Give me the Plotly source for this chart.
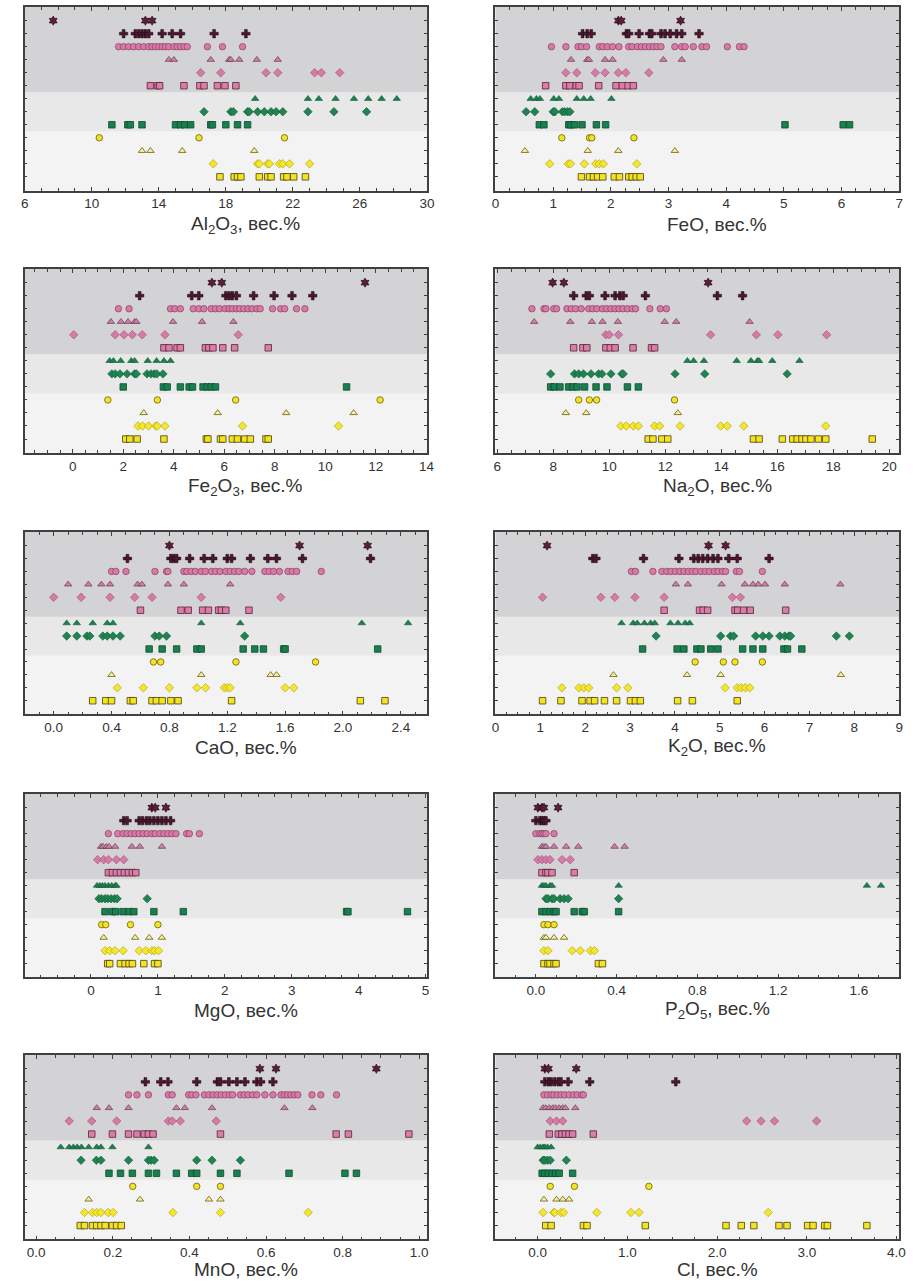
import plotly.graph_objects as go

# ---------------- data (rows from top to bottom, 13 groups) ----------------
AL2O3 = [
    [7.7, 13.2, 13.6],
    [11.9, 12.6, 12.8, 13.0, 13.2, 13.4, 14.2, 14.8, 15.3, 17.3, 19.2],
    [11.6, 11.9, 12.2, 12.5, 12.8, 13.1, 13.4, 13.6, 13.8, 14.0, 14.2, 14.4, 14.6, 14.9, 15.1, 15.3, 15.5, 15.7, 16.9, 17.8, 19.0],
    [14.6, 14.9, 17.1, 18.2, 18.3, 18.8, 19.85, 21.1],
    [16.5, 17.7, 20.4, 21.1, 23.3, 23.7, 24.8],
    [13.5, 13.95, 14.05, 15.5, 16.45, 16.7, 17.5, 17.95, 18.6],
    [19.75, 22.9, 23.55, 24.55, 25.65, 26.5, 27.3, 28.2],
    [16.7, 18.3, 18.45, 19.3, 19.4, 19.9, 20.3, 20.7, 21.0, 21.4, 22.9, 24.45, 26.4],
    [11.2, 12.15, 12.3, 13.0, 15.0, 15.3, 15.55, 15.9, 17.1, 17.2, 18.0, 18.7, 19.3],
    [10.45, 16.4, 21.5],
    [13.0, 13.5, 15.4, 19.7],
    [17.25, 19.9, 20.0, 20.5, 20.6, 21.2, 21.4, 21.8, 23.0],
    [17.65, 18.5, 18.7, 18.9, 20.0, 20.5, 20.7, 21.45, 21.65, 22.05, 22.75],
]
FEO = [
    [2.13, 2.18, 3.21],
    [1.51, 1.59, 1.66, 2.27, 2.31, 2.49, 2.67, 2.71, 2.87, 2.94, 3.03, 3.14, 3.23, 3.53],
    [0.97, 1.22, 1.43, 1.49, 1.58, 1.8, 1.86, 1.94, 2.03, 2.14, 2.31, 2.37, 2.46, 2.53, 2.6, 2.67, 2.74, 2.8, 2.87, 3.11, 3.23, 3.29, 3.43, 3.58, 3.66, 4.02, 4.23, 4.31],
    [1.31, 1.59, 1.62, 1.9, 2.03, 2.91, 3.23],
    [1.22, 1.41, 1.73, 1.9, 2.13, 2.26, 2.66],
    [0.87, 1.22, 1.29, 1.4, 1.45, 1.79, 2.09, 2.2, 2.3, 2.39],
    [0.61, 0.71, 0.77, 1.01, 1.1, 1.41, 1.53, 1.65, 2.01],
    [0.53, 0.68, 1.0, 1.03, 1.16, 1.2, 1.25, 1.29],
    [0.76, 0.84, 1.27, 1.31, 1.37, 1.5, 1.75, 1.91, 5.02, 6.03, 6.14],
    [1.15, 1.63, 1.67, 2.4],
    [0.51, 1.6, 2.13, 3.11],
    [0.94, 1.26, 1.3, 1.54, 1.74, 1.8, 1.87, 2.45],
    [1.49, 1.63, 1.7, 1.77, 1.86, 2.06, 2.15, 2.31, 2.37, 2.44, 2.51],
]
FE2O3 = [
    [5.51, 5.9, 11.57],
    [2.65, 4.71, 4.99, 6.06, 6.19, 6.32, 6.48, 7.16, 7.97, 8.68, 9.5],
    [1.81, 2.23, 3.87, 4.04, 4.26, 4.77, 4.99, 5.19, 5.48, 5.65, 5.81, 6.03, 6.19, 6.32, 6.48, 6.61, 6.77, 6.94, 7.1, 7.29, 7.42, 7.91, 8.23, 8.39, 8.86, 9.19],
    [1.51, 1.91, 2.19, 2.45, 2.52, 3.97, 5.12, 6.36],
    [0.04, 1.68, 2.03, 2.36, 2.75, 3.65, 6.55],
    [3.61, 3.81, 4.13, 4.26, 5.25, 5.39, 5.55, 5.94, 6.41, 7.74],
    [1.46, 1.61, 1.9, 2.32, 2.45, 2.97, 3.32, 3.61, 3.87],
    [1.55, 1.68, 1.87, 2.15, 2.45, 2.52, 2.94, 3.1, 3.23, 3.33, 3.57],
    [2.0, 3.59, 3.74, 4.26, 4.61, 4.74, 5.16, 5.32, 5.48, 5.65, 10.84],
    [1.39, 3.35, 6.45, 12.17],
    [2.81, 5.74, 8.45, 11.12],
    [2.58, 2.77, 3.0, 3.29, 3.35, 3.65, 6.72, 10.52],
    [2.1, 2.26, 2.55, 3.61, 5.29, 5.35, 5.85, 5.94, 6.32, 6.52, 6.81, 7.03, 7.65, 7.74],
]
NA2O = [
    [7.98, 8.38, 13.53],
    [8.73, 9.18, 9.29, 9.85, 10.21, 10.38, 10.5, 11.29, 13.86, 14.76],
    [7.24, 7.67, 7.74, 8.02, 8.12, 8.49, 8.65, 8.8, 9.0, 9.27, 9.41, 9.56, 9.76, 9.91, 10.06, 10.21, 10.35, 10.49, 10.65, 10.82, 10.94, 11.45, 11.82, 12.04],
    [7.32, 8.61, 9.38, 9.76, 10.31, 11.98, 12.39, 15.01],
    [9.88, 10.0, 10.33, 13.62, 15.25, 16.02, 17.76],
    [8.73, 9.06, 9.2, 9.88, 10.04, 10.21, 10.85, 11.51, 11.62],
    [12.79, 13.01, 13.38, 14.55, 15.06, 15.29, 15.35, 15.82, 16.79],
    [7.91, 8.76, 8.91, 9.08, 9.35, 9.62, 9.74, 10.06, 10.45, 10.5, 12.35, 13.41, 16.35],
    [7.91, 8.04, 8.24, 8.55, 8.71, 8.85, 9.12, 9.53, 9.92, 10.65, 11.04],
    [8.91, 9.29, 9.55, 12.33],
    [8.45, 9.18, 12.45],
    [10.41, 10.61, 10.86, 11.04, 11.62, 11.8, 12.53, 13.98, 14.21, 14.8, 17.73],
    [11.39, 11.56, 11.88, 12.09, 15.15, 15.35, 16.18, 16.55, 16.71, 16.88, 17.02, 17.2, 17.47, 17.73, 19.39],
]
CAO = [
    [0.8, 1.7, 2.17],
    [0.51, 0.81, 0.83, 0.85, 0.94, 1.04, 1.1, 1.2, 1.23, 1.36, 1.48, 1.54, 1.72, 2.19],
    [0.4, 0.43, 0.5, 0.7, 0.78, 0.79, 0.9, 0.92, 0.95, 0.98, 1.02, 1.05, 1.09, 1.12, 1.15, 1.19, 1.22, 1.25, 1.28, 1.32, 1.37, 1.46, 1.49, 1.52, 1.56, 1.62, 1.65, 1.68, 1.85],
    [0.1, 0.24, 0.33, 0.39, 0.58, 0.61, 0.79, 0.9, 1.22],
    [0.0, 0.19, 0.39, 0.56, 0.68, 1.02, 1.57],
    [0.6, 0.88, 0.93, 1.03, 1.07, 1.14, 1.16, 1.19, 1.35],
    [0.09, 0.16, 0.27, 0.37, 0.41, 1.02, 1.29, 2.13, 2.45],
    [0.09, 0.16, 0.23, 0.25, 0.34, 0.37, 0.41, 0.46, 0.7, 0.73, 0.78, 1.32],
    [0.66, 0.75, 0.85, 0.99, 1.02, 1.31, 1.39, 1.45, 1.59, 1.6, 2.24],
    [0.69, 0.74, 1.26, 1.81],
    [0.4, 1.02, 1.5, 1.54],
    [0.44, 0.62, 0.8, 0.99, 1.05, 1.18, 1.2, 1.22, 1.6, 1.66],
    [0.27, 0.36, 0.4, 0.53, 0.55, 0.68, 0.71, 0.75, 0.81, 0.86, 1.23, 2.12, 2.29],
]
K2O = [
    [1.15, 4.75, 5.13],
    [2.17, 2.24, 3.3, 4.09, 4.42, 4.52, 4.62, 4.73, 4.85, 4.96, 5.2, 5.39, 6.1],
    [3.03, 3.12, 3.51, 3.71, 3.82, 3.91, 4.01, 4.11, 4.2, 4.3, 4.39, 4.47, 4.58, 4.68, 4.77, 4.88, 4.96, 5.06, 5.13, 5.37, 5.44, 5.95],
    [4.02, 4.29, 5.04, 5.56, 5.74, 5.86, 6.01, 6.45, 7.69],
    [1.05, 2.35, 2.66, 3.11, 3.76, 5.28, 5.46],
    [3.76, 4.55, 4.63, 4.73, 5.34, 5.4, 5.53, 5.68, 6.47],
    [2.81, 3.07, 3.16, 3.32, 3.46, 3.55, 3.9, 4.07, 4.23, 4.33],
    [3.58, 5.02, 5.24, 5.31, 5.8, 5.96, 6.1, 6.34, 6.45, 6.54, 6.58, 7.6, 7.89],
    [3.28, 4.05, 4.2, 4.49, 4.58, 4.8, 4.96, 5.51, 5.74, 5.96, 6.43, 6.51, 6.83],
    [4.45, 5.08, 5.34, 5.95],
    [2.63, 4.27, 5.02, 7.7],
    [1.48, 1.86, 1.97, 2.08, 2.7, 2.95, 5.12, 5.39, 5.48, 5.57, 5.67],
    [1.05, 1.46, 1.93, 2.11, 2.21, 2.43, 2.7, 3.01, 3.12, 3.23, 4.06, 4.39, 5.39],
]
MGO = [
    [0.91, 0.96, 1.12],
    [0.49, 0.54, 0.72, 0.77, 0.83, 0.88, 0.94, 1.0, 1.06, 1.12, 1.19],
    [0.26, 0.4, 0.48, 0.54, 0.6, 0.66, 0.72, 0.78, 0.84, 0.91, 0.96, 1.03, 1.09, 1.15, 1.21, 1.27, 1.43, 1.47, 1.62],
    [0.15, 0.18, 0.23, 0.27, 0.36, 0.61, 0.73, 1.06],
    [0.1, 0.19, 0.26, 0.38, 0.49],
    [0.26, 0.32, 0.38, 0.44, 0.5, 0.56, 0.62, 0.67],
    [0.09, 0.13, 0.17, 0.21, 0.26, 0.31, 0.36, 0.38],
    [0.12, 0.16, 0.21, 0.25, 0.3, 0.35, 0.39, 0.84],
    [0.21, 0.32, 0.37, 0.48, 0.57, 0.64, 0.94, 1.38, 3.82, 3.84, 4.73],
    [0.16, 0.22, 0.59, 1.0],
    [0.19, 0.66, 0.87, 1.06],
    [0.21, 0.28, 0.36, 0.48, 0.72, 0.82, 0.91, 0.95, 1.01],
    [0.25, 0.28, 0.44, 0.51, 0.57, 0.62, 0.79, 0.95, 1.0],
]
P2O5 = [
    [0.01, 0.03, 0.04, 0.11],
    [0.0, 0.02, 0.03, 0.04, 0.05],
    [0.0, 0.02, 0.03, 0.04, 0.05, 0.09],
    [0.03, 0.04, 0.05, 0.09, 0.15, 0.21, 0.39, 0.44],
    [0.01, 0.03, 0.05, 0.07, 0.13, 0.17],
    [0.03, 0.05, 0.06, 0.08, 0.19],
    [0.03, 0.04, 0.05, 0.07, 0.08, 0.41, 1.64, 1.71],
    [0.05, 0.06, 0.08, 0.09, 0.12, 0.14, 0.16, 0.41],
    [0.03, 0.05, 0.07, 0.09, 0.1, 0.19, 0.23, 0.24, 0.41],
    [0.04, 0.06, 0.09],
    [0.04, 0.05, 0.09, 0.14],
    [0.04, 0.06, 0.18, 0.22, 0.27, 0.29],
    [0.04, 0.06, 0.07, 0.09, 0.1, 0.31, 0.33],
]
MNO = [
    [0.584, 0.626, 0.888],
    [0.285, 0.325, 0.344, 0.419, 0.473, 0.481, 0.503, 0.524, 0.545, 0.576, 0.586, 0.618],
    [0.241, 0.263, 0.293, 0.345, 0.355, 0.398, 0.406, 0.417, 0.439, 0.451, 0.462, 0.473, 0.483, 0.494, 0.505, 0.513, 0.533, 0.543, 0.553, 0.565, 0.576, 0.597, 0.618, 0.639, 0.648, 0.656, 0.665, 0.674, 0.683, 0.72, 0.743, 0.784],
    [0.158, 0.19, 0.241, 0.366, 0.388, 0.459, 0.648, 0.721],
    [0.086, 0.145, 0.21, 0.345, 0.355, 0.376, 0.47],
    [0.145, 0.199, 0.241, 0.263, 0.282, 0.293, 0.305, 0.481, 0.783, 0.815, 0.973],
    [0.064, 0.086, 0.097, 0.107, 0.118, 0.137, 0.158, 0.169, 0.199, 0.293],
    [0.117, 0.157, 0.169, 0.241, 0.293, 0.3, 0.308, 0.419, 0.459, 0.533],
    [0.19, 0.22, 0.251, 0.293, 0.314, 0.366, 0.406, 0.419, 0.481, 0.524, 0.66, 0.806, 0.836],
    [0.252, 0.419, 0.481],
    [0.137, 0.271, 0.451, 0.481],
    [0.126, 0.147, 0.158, 0.169, 0.188, 0.201, 0.357, 0.481, 0.71],
    [0.115, 0.126, 0.147, 0.158, 0.169, 0.18, 0.199, 0.21, 0.222],
]
CL = [
    [0.08, 0.12, 0.43],
    [0.08, 0.12, 0.15, 0.19, 0.23, 0.26, 0.34, 0.58, 1.54],
    [0.07, 0.11, 0.15, 0.18, 0.22, 0.26, 0.3, 0.35, 0.4, 0.44, 0.49, 0.51],
    [0.06, 0.09, 0.13, 0.17, 0.2, 0.24, 0.28, 0.31, 0.42],
    [0.14, 0.21, 0.28, 2.33, 2.49, 2.64, 3.11],
    [0.13, 0.23, 0.27, 0.31, 0.35, 0.39, 0.62],
    [0.0, 0.03, 0.06, 0.08, 0.11, 0.15],
    [0.06, 0.08, 0.11, 0.14, 0.32],
    [0.05, 0.08, 0.12, 0.16, 0.2, 0.24, 0.39],
    [0.14, 0.41, 1.24],
    [0.07, 0.21, 0.28, 0.35],
    [0.06, 0.18, 0.19, 0.26, 0.29, 0.66, 1.04, 1.13, 2.57],
    [0.09, 0.15, 0.51, 0.55, 1.2, 2.1, 2.27, 2.41, 2.69, 2.78, 3.01, 3.07, 3.2, 3.23, 3.67],
]

TITLES = [
    "Al<sub>2</sub>O<sub>3</sub>, вес.%", "FeO, вес.%",
    "Fe<sub>2</sub>O<sub>3</sub>, вес.%", "Na<sub>2</sub>O, вес.%",
    "CaO, вес.%", "K<sub>2</sub>O, вес.%",
    "MgO, вес.%", "P<sub>2</sub>O<sub>5</sub>, вес.%",
    "MnO, вес.%", "Cl, вес.%",
]
PANELS = [AL2O3, FEO, FE2O3, NA2O, CAO, K2O, MGO, P2O5, MNO, CL]
TICKVALS = [
    [6, 10, 14, 18, 22, 26, 30],
    [0, 1, 2, 3, 4, 5, 6, 7],
    [0, 2, 4, 6, 8, 10, 12, 14],
    [6, 8, 10, 12, 14, 16, 18, 20],
    [0.0, 0.4, 0.8, 1.2, 1.6, 2.0, 2.4],
    [0, 1, 2, 3, 4, 5, 6, 7, 8, 9],
    [0, 1, 2, 3, 4, 5],
    [0.0, 0.4, 0.8, 1.2, 1.6],
    [0.0, 0.2, 0.4, 0.6, 0.8, 1.0],
    [0.0, 1.0, 2.0, 3.0, 4.0],
]
TICKFMT = ["d", "d", "d", "d", ".1f", "d", "d", ".1f", ".1f", ".1f"]
XRANGES = [
    [6, 30], [0, 7], [-1.9, 14.02], [5.94, 20.35], [-0.2, 2.58],
    [0, 9], [-0.99, 5.02], [-0.2, 1.8], [-0.03, 1.02], [-0.47, 4.03],
]
MINOR_DTICK = [1, 0.25, 0.5, 0.5, 0.1, 0.25, 0.25, 0.1, 0.05, 0.25]

# ---------------- styles ----------------
STYLES = [
    dict(symbol="hexagram", color="#5a1f38", line=dict(color="#24080f", width=0.6), size=7),
    dict(symbol="cross", color="#4a1830", line=dict(color="#24080f", width=0.5), size=7),
    dict(symbol="circle", color="#d77ba6", line=dict(color="#8a3c62", width=0.7), size=6.5),
    dict(symbol="triangle-up", color="#c983a2", line=dict(color="#6e3450", width=0.7), size=6.5),
    dict(symbol="diamond", color="#d67ba5", line=dict(color="#9c4c72", width=0.6), size=6.5),
    dict(symbol="square", color="#d97ea8", line=dict(color="#5a2038", width=0.8), size=6.5),
    dict(symbol="triangle-up", color="#1e7f4f", line=dict(color="#0f5a35", width=0.6), size=6.5),
    dict(symbol="diamond", color="#1f8452", line=dict(color="#0f5a35", width=0.6), size=6.5),
    dict(symbol="square", color="#1a7f4e", line=dict(color="#0c4d2e", width=0.8), size=6.5),
    dict(symbol="circle", color="#f3e320", line=dict(color="#6a6010", width=0.8), size=6.5),
    dict(symbol="triangle-up", color="#f6efa0", line=dict(color="#6a6010", width=0.8), size=6.5),
    dict(symbol="diamond", color="#f4e628", line=dict(color="#a89a20", width=0.6), size=6.5),
    dict(symbol="square", color="#f3e320", line=dict(color="#4a4010", width=0.8), size=6.5),
]

W, H = 919, 1284
COL_X = [(21, 428.5), (498, 907)]
ROW_TOP = [7, 269, 532, 794, 1055]
ROW_BOT = [190.5, 452.7, 714.3, 977.3, 1239.3]
TITLE_GAP = [34, 34, 33, 33, 30]
YR = [-0.05, 14.05]
DARK, MID, LIGHT = "#d3d3d5", "#e8e8e8", "#f3f3f3"
FONT = "Liberation Sans, Arial, sans-serif"

fig = go.Figure()
shapes, annotations = [], []
layout = {}

for p, data in enumerate(PANELS):
    r, c = divmod(p, 2)
    k = p + 1
    xa = "x" if k == 1 else f"x{k}"
    ya = "y" if k == 1 else f"y{k}"
    for i, vals in enumerate(data):
        st = STYLES[i]
        yv = 13 - i
        fig.add_trace(go.Scatter(
            x=vals, y=[yv] * len(vals), mode="markers", xaxis=xa, yaxis=ya,
            showlegend=False, hoverinfo="x",
            marker=dict(symbol=st["symbol"], color=st["color"], size=st["size"], line=st["line"]),
        ))
    x0, x1 = COL_X[c]
    xdom = [x0 / W, x1 / W]
    ydom = [1 - ROW_BOT[r] / H, 1 - ROW_TOP[r] / H]
    fmt = TICKFMT[p]
    tv = TICKVALS[p]
    tt = [f"{v:.1f}" if fmt == ".1f" else f"{int(v)}" for v in tv]
    layout[f"xaxis{'' if k == 1 else k}"] = dict(
        domain=xdom, anchor=ya, range=XRANGES[p], tickmode="array", tickvals=tv, ticktext=tt,
        ticks="inside", ticklen=4, tickcolor="#404040", showline=True, linecolor="#404040",
        linewidth=1.5, mirror="allticks", showgrid=False, zeroline=False,
        tickfont=dict(family=FONT, size=13.5, color="#333333"),
        minor=dict(dtick=MINOR_DTICK[p], tick0=0, ticks="inside", ticklen=3, tickcolor="#404040", showgrid=False),
    )
    layout[f"yaxis{'' if k == 1 else k}"] = dict(
        domain=ydom, anchor=xa, range=YR, tickmode="array", tickvals=list(range(1, 14)),
        showticklabels=False, ticks="inside", ticklen=3, tickcolor="#404040",
        showline=True, linecolor="#404040", linewidth=1.5, mirror="ticks",
        showgrid=False, zeroline=False,
    )
    xref = f"{xa} domain"
    shapes.append(dict(type="rect", xref=xref, yref=ya, x0=0, x1=1, y0=YR[0], y1=4.5,
                       fillcolor=LIGHT, line=dict(width=0), layer="below"))
    shapes.append(dict(type="rect", xref=xref, yref=ya, x0=0, x1=1, y0=4.5, y1=7.5,
                       fillcolor=MID, line=dict(width=0), layer="below"))
    shapes.append(dict(type="rect", xref=xref, yref=ya, x0=0, x1=1, y0=7.5, y1=YR[1],
                       fillcolor=DARK, line=dict(width=0), layer="below"))
    annotations.append(dict(
        text=TITLES[p], xref="paper", yref="paper",
        x=((x0 + x1) / 2 + 20) / W, y=1 - (ROW_BOT[r] + TITLE_GAP[r]) / H,
        xanchor="center", yanchor="middle", showarrow=False,
        font=dict(family=FONT, size=19, color="#333333"),
    ))

fig.update_layout(
    width=W, height=H, margin=dict(l=0, r=0, t=0, b=0),
    paper_bgcolor="white", plot_bgcolor=LIGHT,
    shapes=shapes, annotations=annotations, showlegend=False,
    font=dict(family=FONT),
    **layout,
)
fig.write_html(
    "out.html",
    config={"displayModeBar": False},
    post_script="document.body.style.margin='0';document.body.style.overflow='hidden';",
)
